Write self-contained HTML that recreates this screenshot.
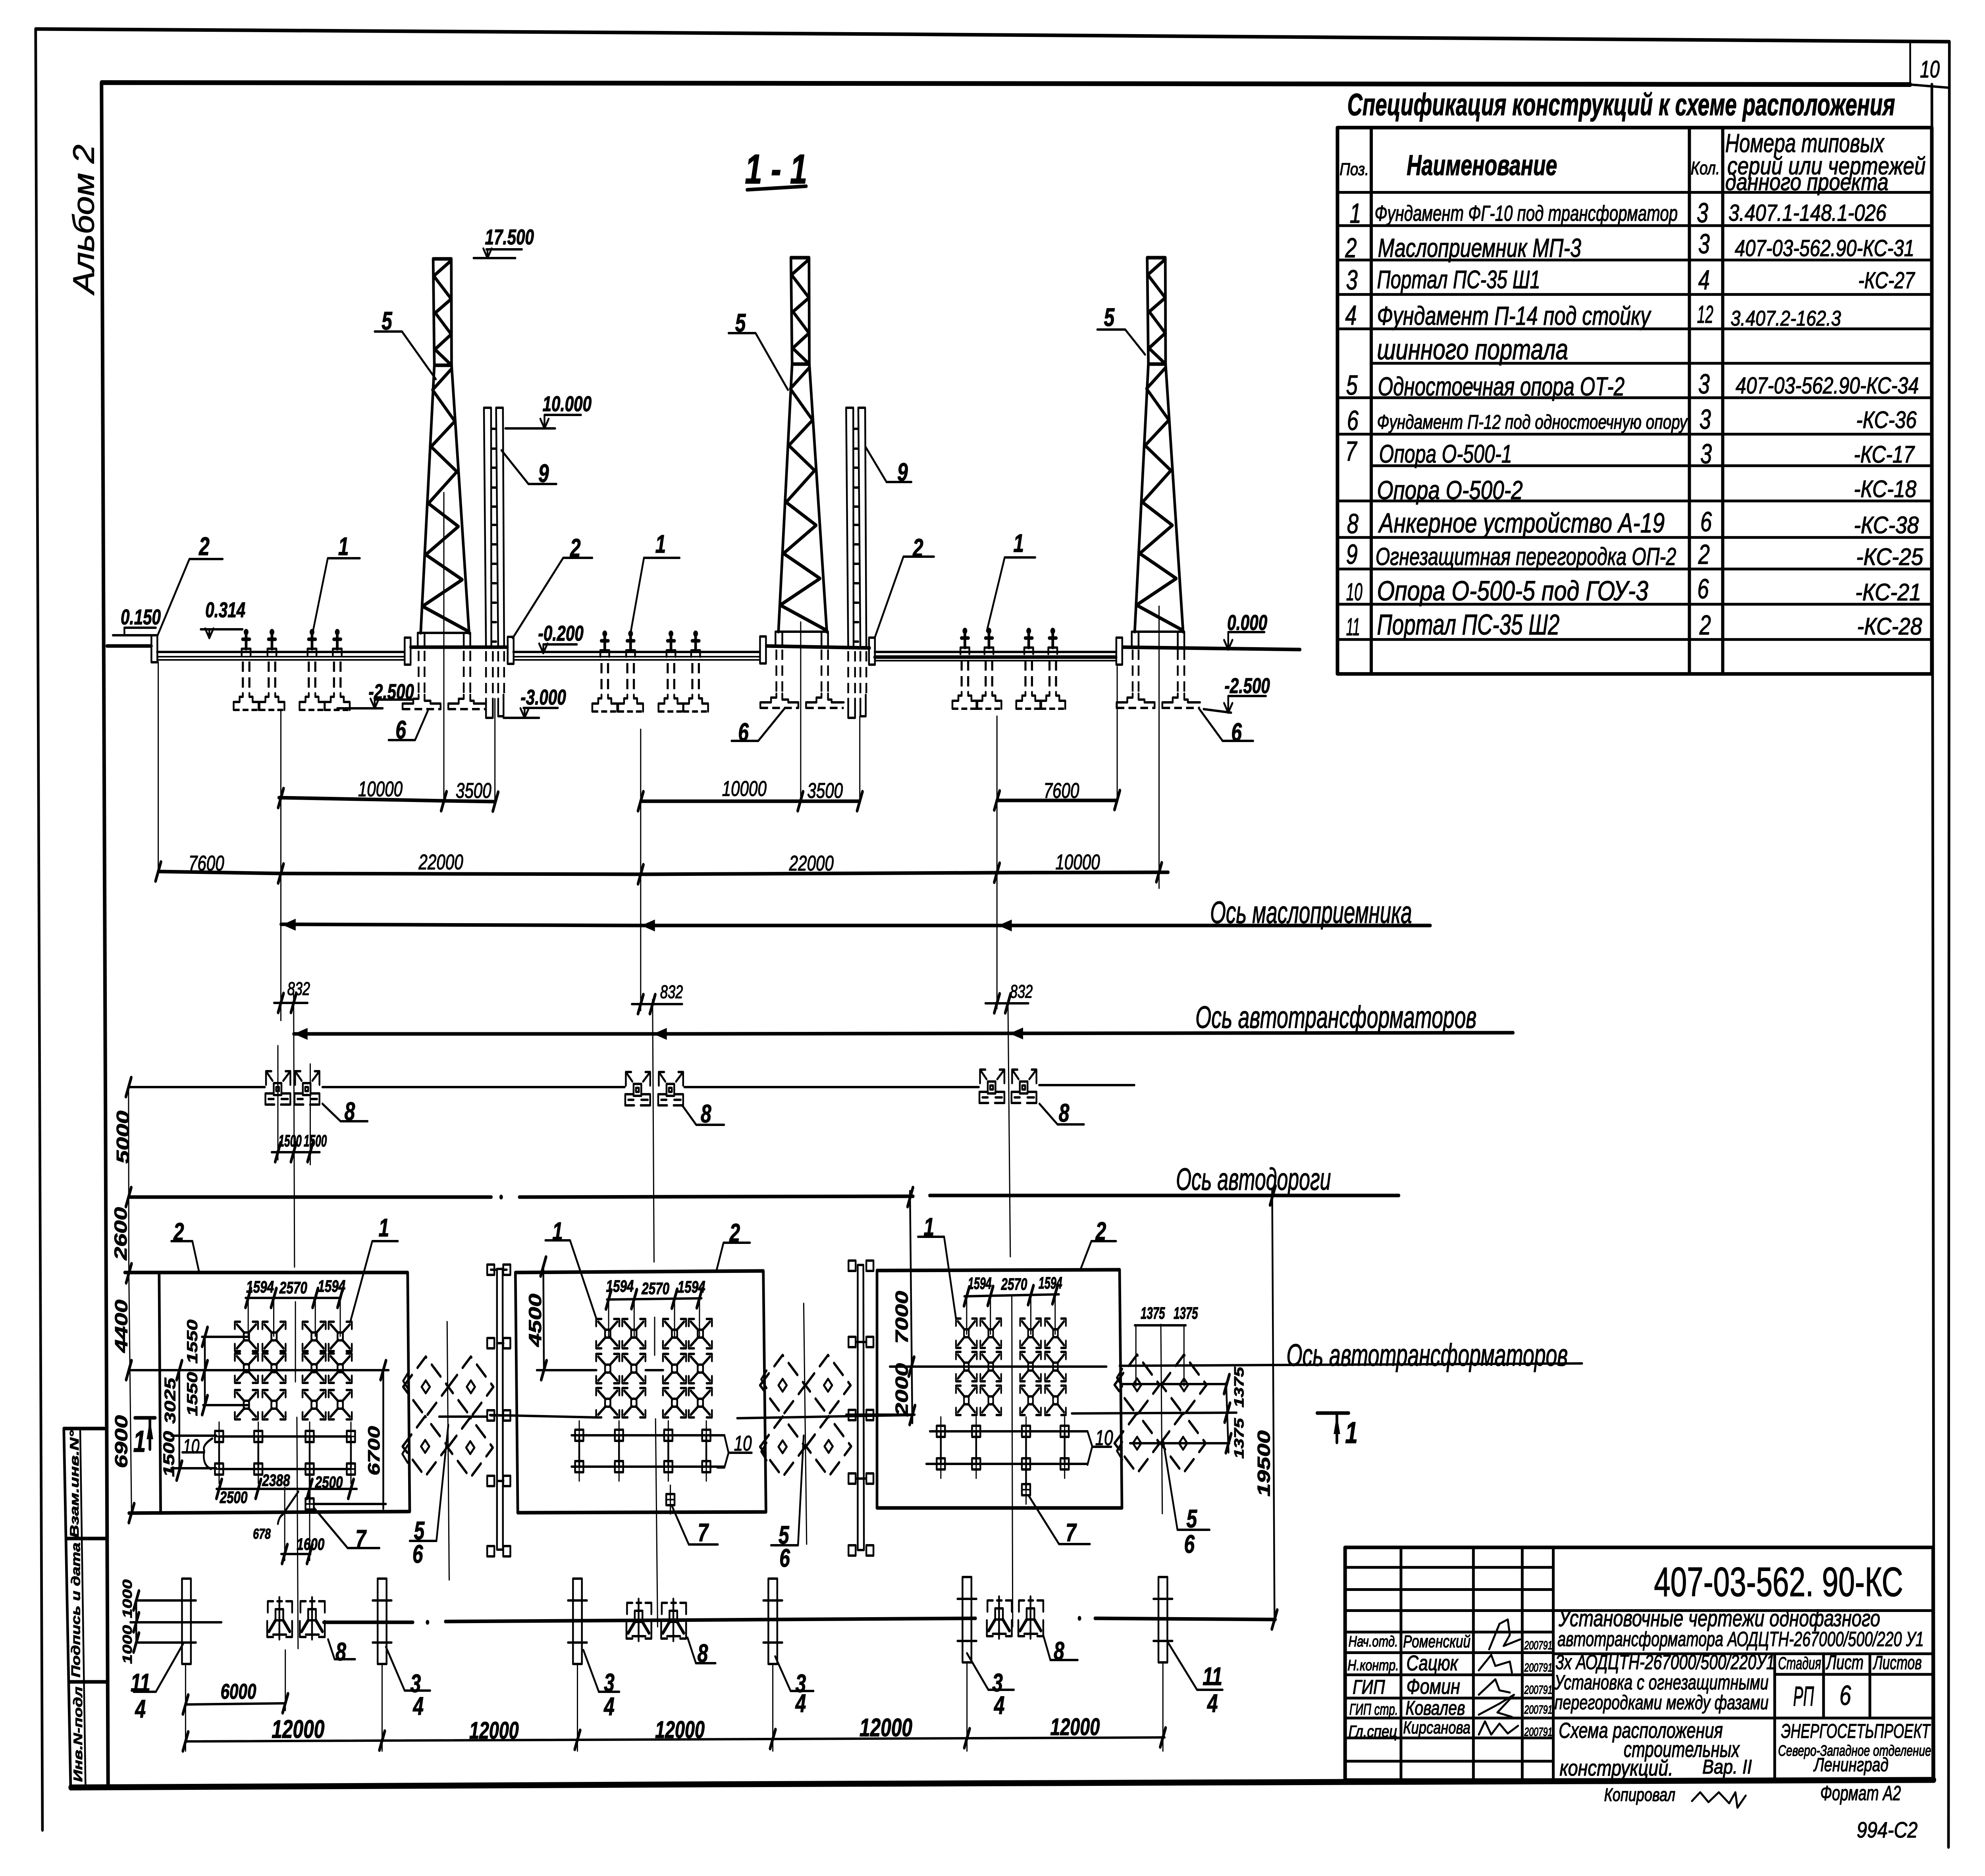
<!DOCTYPE html>
<html lang="ru">
<head>
<meta charset="utf-8">
<title>407-03-562.90-КС</title>
<style>
html,body{margin:0;padding:0;background:#fff;width:100%;height:100%;overflow:hidden}
svg{display:block;overflow:hidden;position:absolute;left:0;top:0;width:100vw;height:100vh}
svg *{stroke-linecap:round;stroke-linejoin:round}
.g{fill:none;stroke:#000;stroke-width:6}
.t{stroke-width:4}
.k{stroke-width:9}
.kk{stroke-width:12}
.da{stroke-dasharray:26 14;stroke-linecap:butt}
.ns *{vector-effect:non-scaling-stroke}
text{font-family:"Liberation Sans","DejaVu Sans",sans-serif;font-style:italic;fill:#000;stroke:#000;stroke-width:1.5}
.c text,text.c{dominant-baseline:central;text-anchor:middle}
.l text{font-size:64px;font-weight:bold}
.d text{font-size:54px}
.s text{font-size:42px;font-weight:bold}
</style>
</head>
<body>
<svg xmlns="http://www.w3.org/2000/svg" viewBox="0 0 6686 4725" preserveAspectRatio="none">
<rect width="6686" height="4725" fill="#fff"/>
<defs>
<path id="tk" class="g k" d="M-9 24L9 -24"/>
<path id="ah" d="M0 0L46 -15V15Z" fill="#000"/>
<path id="av" d="M-14 -24L0 0L14 -24" fill="none" stroke="#000" stroke-width="6"/>
<g id="tower">
<path class="g k" d="M1459 652H1520M1459 652L1463 920L1417 1594M1520 652L1521 920L1580 1594M1463 920H1521"/>
<path class="g k" d="M1520 656L1461 695L1520 753L1466 788L1520 842L1465 880L1521 920M1521 929L1457 982L1532 1061L1452 1125L1539 1188L1443 1268L1544 1326L1434 1397L1557 1460L1423 1527L1575 1589"/>
<path class="g" d="M1407 1594H1584M1407 1594V1630M1430 1594V1630M1562 1594V1630M1584 1594V1630"/>
<path class="g da" d="M1410 1639V1750M1430 1639V1750M1562 1639V1750M1584 1639V1750"/>
<path class="g" d="M1356 1772V1786M1356 1772H1392V1760H1410V1750M1430 1750V1765H1450V1772H1484V1786M1510 1772V1786M1510 1772H1545V1760H1562V1750M1584 1750V1765H1596V1772H1637"/>
<path class="g da" d="M1356 1786H1484M1510 1786H1637"/>
</g>
<g id="part">
<path class="g" d="M1630 1027H1654L1655 1630H1637ZM1671 1027H1694L1698 1630H1678Z"/>
<path class="g" d="M1655 1080H1671M1655 1130H1671M1655 1178H1671M1655 1228H1671M1655 1276H1671M1655 1322H1671M1655 1371H1671M1655 1420H1671M1655 1469H1671M1655 1518H1671M1655 1567H1671M1655 1616H1671"/>
<path class="g da" d="M1637 1640V1750M1660 1640V1750M1678 1640V1750M1698 1640V1750"/>
<path class="g" d="M1637 1760V1808H1660V1760M1678 1760V1804H1696V1750"/>
</g>
<g id="pier">
<circle cx="0" cy="2" r="8" fill="#000"/>
<path class="g k" d="M0 0V44M-12 20H12"/>
<path class="g" d="M-15 60V44H15V60"/>
<path class="g da" d="M-11 76V156M11 76V156" style="stroke-width:7"/>
<path class="g" d="M-42 198V178H-22V165H-11V156M11 156V165H22V178H42V198"/>
<path class="g da" d="M-42 198H42" style="stroke-dasharray:20 10"/>
</g>
<g id="box"><rect class="g" x="-10" y="-34" width="20" height="68"/></g>
<g id="X">
<path class="g" d="M0 18V0H18M60 0H78V18M78 56V74H60M18 74H0V56"/>
<path class="g" style="stroke-width:7" d="M7 7L32 28M71 7L46 28M7 67L32 46M71 67L46 46"/>
<rect class="g" x="30" y="27" width="18" height="20"/>
</g>
<g id="D">
<path class="g" style="stroke-dasharray:42 26;stroke-width:7" d="M-76 0L0 -76L76 0L0 76Z"/>
<path class="g" d="M-14 0L0 -16L14 0L0 16Z"/>
</g>
<g id="P">
<rect class="g" x="-14" y="-14" width="28" height="28"/>
<path class="g t" d="M-14 0H14M0 -36V36"/>
</g>
<g id="A1">
<path class="g" d="M4 36V2H22M4 2L26 26M70 2H86V36M86 2L62 26M30 32H56V62H30ZM38 42h10v10h-10zM2 58H30M56 58H86M2 58V86H32M54 86H86V58M12 72H30M56 72H78"/>
</g>
<g id="A2">
<path class="g" d="M4 30V2H22M36 2H52M66 2H86V30M30 22H56V50H30ZM2 52V92H22M66 92H86V52M22 86H66M43 -8V98"/>
<path class="g k" d="M30 50L8 78M56 50L78 78"/>
</g>
<g id="PT">
<path class="g" d="M-15 0H15V215H-15ZM-32 55H32M-32 161H32"/>
</g>
<path id="sq" class="g" d="M-12 -13H12V13H-12Z"/>
</defs>

<!-- frames -->
<path class="g k" d="M120 73L3000 86L6566 105L6563 4652M120 73L143 4609"/>
<path class="g kk" d="M342 208L6434 213M342 208L364 4496"/>
<path class="g" d="M6434 213L6565 221M6434 110V213"/>
<path class="g k" d="M6507 213L6514 4483"/>
<path style="fill:none;stroke:#000;stroke-width:15" d="M238 4502L2400 4494L4600 4488L6514 4483"/>
<path class="g k" d="M215 3598L238 4502M215 3598H352M225 3875H360M232 4236H364"/>
<path class="g" d="M270 3598L288 4496"/>
<text x="6500" y="175" class="c" font-size="60">10</text>
<text class="c" transform="translate(282,552) rotate(-90)" font-size="100" textLength="376" lengthAdjust="spacingAndGlyphs">Альбом 2</text>
<g class="c s">
<text transform="translate(250,3738) rotate(-90)" textLength="270" lengthAdjust="spacingAndGlyphs">Взам.инв.N°</text>
<text transform="translate(255,4055) rotate(-90)" textLength="340" lengthAdjust="spacingAndGlyphs">Подпись и дата</text>
<text transform="translate(262,4368) rotate(-90)" textLength="240" lengthAdjust="spacingAndGlyphs">Инв.N-подл</text>
</g>

<!-- section 1-1 -->
<text x="2614" y="426" class="c" font-size="105" font-weight="bold">1 - 1</text>
<path class="g k" d="M2516 478L2716 469"/>

<use href="#tower"/>
<use href="#tower" transform="translate(1205,-3)"/>
<use href="#tower" transform="translate(2405,-3)"/>
<use href="#part"/>
<use href="#part" transform="translate(1220,0)"/>

<!-- ground + trough -->
<path class="g k" d="M360 1627H510M1383 1630H1709M2581 1627L2929 1632M3782 1630L4379 1636"/>
<path class="g" d="M529 1642H1363M1729 1642H2558M2946 1642H3759"/>
<path class="g k" d="M2946 1655H3759"/>
<path class="g t" d="M529 1654H1363M529 1662H1363M1729 1654H2558M1729 1662H2558M2946 1664H3759"/>
<use href="#box" x="520" y="1634"/><use href="#box" x="1373" y="1640"/><use href="#box" x="1720" y="1638"/><use href="#box" x="2570" y="1637"/><use href="#box" x="2937" y="1640"/><use href="#box" x="3770" y="1640"/>
<use href="#pier" x="829" y="1590"/><use href="#pier" x="916" y="1590"/><use href="#pier" x="1051" y="1590"/><use href="#pier" x="1136" y="1590"/>
<use href="#pier" x="2037" y="1594"/><use href="#pier" x="2124" y="1594"/><use href="#pier" x="2260" y="1594"/><use href="#pier" x="2343" y="1594"/>
<use href="#pier" x="3250" y="1587"/><use href="#pier" x="3331" y="1587"/><use href="#pier" x="3465" y="1587"/><use href="#pier" x="3546" y="1587"/>
<path class="g" d="M1136 1784H1289"/>

<!-- leaders section -->
<path class="g" d="M1262 835H1354L1468 955M1689 1134L1780 1219H1874M1727 1607L1897 1405H1995M2124 1594L2169 1405H2289M1441 1790L1398 1864H1309
M2654 982L2545 839H2454M2915 1125L2986 1214H3070M2946 1607L3043 1402H3146M3324 1589L3384 1404H3487M2644 1783L2554 1866H2464
M3857 893L3790 830H3696M4040 1786L4118 1866H4221M531 1600L638 1408H750M1053 1594L1104 1406H1212"/>
<g class="c l">
<text x="1303" y="808">5</text><text x="1831" y="1192">9</text><text x="1938" y="1380">2</text><text x="2225" y="1370">1</text><text x="1350" y="1838">6</text>
<text x="2494" y="813">5</text><text x="3040" y="1189">9</text><text x="3092" y="1380">2</text><text x="3431" y="1368">1</text><text x="2504" y="1844">6</text>
<text x="3736" y="799">5</text><text x="4165" y="1844">6</text><text x="688" y="1376">2</text><text x="1157" y="1376">1</text>
</g>
<!-- levels -->
<g class="c d" style="font-weight:bold">
<text x="1716" y="598">17.500</text>
<text x="1910" y="1018">10.000</text>
<text x="1889" y="1596">-0.200</text>
<text x="1830" y="1757">-3.000</text>
<text x="1318" y="1743">-2.500</text>
<text x="4201" y="1569">0.000</text>
<text x="4201" y="1728">-2.500</text>
<text x="474" y="1555">0.150</text>
<text x="759" y="1537">0.314</text>
</g>
<path class="g" d="M1638 628H1758M1595 650H1736M1642 628V650M1834 1045H1957M1702 1079H1870M1834 1045V1079M1830 1623H1943M1830 1623V1645M1763 1783H1879M1696 1808H1816M1767 1783V1808M1262 1762H1392M1185 1784H1289M1262 1762V1784M4137 1592H4259M4137 1592V1636M4137 1753H4264M4137 1753V1795M4054 1786L4147 1795M419 1581H525M419 1581V1600M380 1600H510M676 1585H817M705 1585V1607"/>
<use href="#av" x="1642" y="650"/><use href="#av" x="1834" y="1079"/><use href="#av" x="1830" y="1645"/><use href="#av" x="1767" y="1808"/><use href="#av" x="1262" y="1784"/><use href="#av" x="4137" y="1636"/><use href="#av" x="4137" y="1795"/><use href="#av" x="705" y="1607"/>

<!-- verticals -->
<path class="g t" d="M533 1667V2195M946 1788V2570M1495 1241V2019M1667 1760V2019M2158 1837V2545M2697 1567V2018M2896 1804V2018M3358 1804V2540M3763 1679V2015M3904 1527V2237M989 2504L992 3191M2198 2518L2203 3178M3395 2520L3403 3165M936 2634V2921M1045 2680V2933"/>
<!-- dims top -->
<path class="g k" d="M939 2009L1495 2017L1669 2019M2158 2018H2896M3358 2016H3763"/>
<path class="g k" d="M533 2195L946 2200L2158 2202L3358 2198L3935 2197"/>
<g>
<use href="#tk" x="946" y="2010"/><use href="#tk" x="1495" y="2018"/><use href="#tk" x="1669" y="2019"/><use href="#tk" x="2158" y="2018"/><use href="#tk" x="2696" y="2018"/><use href="#tk" x="2896" y="2018"/><use href="#tk" x="3358" y="2016"/><use href="#tk" x="3763" y="2015"/>
<use href="#tk" x="533" y="2195"/><use href="#tk" x="946" y="2200"/><use href="#tk" x="2158" y="2202"/><use href="#tk" x="3358" y="2198"/><use href="#tk" x="3904" y="2197"/>
</g>
<g class="c d">
<text x="1281" y="1988">10000</text><text x="1595" y="1992">3500</text><text x="2507" y="1987">10000</text><text x="2779" y="1992">3500</text><text x="3575" y="1992">7600</text>
<text x="695" y="2175">7600</text><text x="1485" y="2172">22000</text><text x="2733" y="2175">22000</text><text x="3630" y="2172">10000</text>
</g>
<!-- axes -->
<path class="g k" d="M946 2328L2158 2331L4818 2331M989 2604L2198 2604L5097 2601"/>
<use href="#ah" x="950" y="2329"/><use href="#ah" x="2160" y="2331"/><use href="#ah" x="3362" y="2331"/>
<use href="#ah" x="990" y="2604"/><use href="#ah" x="2200" y="2604"/><use href="#ah" x="3400" y="2603"/>
<g class="c" font-size="78">
<text x="4416" y="2298" textLength="680" lengthAdjust="spacingAndGlyphs">Ось маслоприемника</text>
<text x="4500" y="2562" textLength="947" lengthAdjust="spacingAndGlyphs">Ось автотрансформаторов</text>
<text x="4222" y="2970" textLength="522" lengthAdjust="spacingAndGlyphs">Ось автодороги</text>
<text x="4807" y="3413" textLength="948" lengthAdjust="spacingAndGlyphs">Ось автотрансформаторов</text>
</g>
<path class="g" d="M923 2526H1036M2128 2529H2298M3319 2527H3464M915 2902H1077"/>
<use href="#tk" x="946" y="2526"/><use href="#tk" x="989" y="2526"/><use href="#tk" x="2158" y="2529"/><use href="#tk" x="2198" y="2529"/><use href="#tk" x="3358" y="2527"/><use href="#tk" x="3395" y="2527"/><use href="#tk" x="936" y="2902"/><use href="#tk" x="989" y="2902"/><use href="#tk" x="1045" y="2902"/>
<g class="c d"><text x="1006" y="2490" style="font-size:46px">832</text><text x="2262" y="2498" style="font-size:46px">832</text><text x="3440" y="2497" style="font-size:46px">832</text></g>
<g class="c s"><text x="977" y="2873" textLength="78" lengthAdjust="spacingAndGlyphs">1500</text><text x="1062" y="2873" textLength="78" lengthAdjust="spacingAndGlyphs">1500</text></g>
<!-- axis Y anchors -->
<path class="g" d="M433 2738H892M1086 2738H2104M2305 2738H3297M3500 2733H3821"/>
<use href="#A1" x="892" y="2696"/><use href="#A1" x="990" y="2696"/><use href="#A1" x="2104" y="2698"/><use href="#A1" x="2215" y="2698"/><use href="#A1" x="3297" y="2692"/><use href="#A1" x="3405" y="2692"/>
<path class="g" d="M1086 2780L1147 2824H1238M2298 2784L2345 2833H2439M3501 2780L3562 2832H3651"/>
<g class="c l"><text x="1178" y="2799">8</text><text x="2378" y="2805">8</text><text x="3584" y="2803">8</text></g>
<!-- road axis -->
<path class="g k" d="M433 3015H1655M1749 3015L3076 3013M3131 3011H4712"/>
<circle cx="1688" cy="3015" r="6" fill="#000"/>
<path class="g t" d="M433 2738L434 3207L443 3811"/>
<use href="#tk" x="433" y="2738"/><use href="#tk" x="433" y="3015"/><use href="#tk" x="434" y="3207"/><use href="#tk" x="434" y="3451"/><use href="#tk" x="443" y="3811"/>
<g class="c d" style="font-weight:bold">
<text transform="translate(414,2864) rotate(-90)" style="font-size:60px">5000</text>
<text transform="translate(407,3107) rotate(-90)" style="font-size:60px">2600</text>
<text transform="translate(409,3340) rotate(-90)" style="font-size:60px">4400</text>
<text transform="translate(409,3631) rotate(-90)" style="font-size:60px">6900</text>
<text transform="translate(3038,3318) rotate(-90)" style="font-size:60px">7000</text>
<text transform="translate(3038,3500) rotate(-90)" style="font-size:60px">2000</text>
<text transform="translate(4257,3686) rotate(-90)" style="font-size:60px">19500</text>
<text transform="translate(1803,3325) rotate(-90)" style="font-size:60px">4500</text>
<text transform="translate(1260,3654) rotate(-90)" style="font-size:56px">6700</text>
<text transform="translate(572,3528) rotate(-90)" style="font-size:52px">3025</text>
<text transform="translate(568,3662) rotate(-90)" style="font-size:52px">1500</text>
<text transform="translate(648,3379) rotate(-90)" style="font-size:50px">1550</text>
<text transform="translate(648,3511) rotate(-90)" style="font-size:50px">1550</text>
<text transform="translate(4173,3494) rotate(-90)" style="font-size:46px">1375</text>
<text transform="translate(4173,3623) rotate(-90)" style="font-size:46px">1375</text>
</g>
<!-- plan slabs -->
<path class="g k" d="M420 3205H1373L1380 3807L434 3811M536 3205L541 3811"/>
<path class="g k" d="M1736 3205L2571 3201L2580 3808L1744 3810Z"/>
<path class="g k" d="M2954 3200L3771 3198L3779 3798H2954Z"/>
<!-- plan 1 X -->
<use href="#X" x="791" y="3329"/><use href="#X" x="884" y="3329"/><use href="#X" x="1019" y="3329"/><use href="#X" x="1107" y="3329"/>
<use href="#X" x="791" y="3409"/><use href="#X" x="884" y="3409"/><use href="#X" x="1019" y="3409"/><use href="#X" x="1107" y="3409"/>
<use href="#X" x="791" y="3501"/><use href="#X" x="884" y="3501"/><use href="#X" x="1019" y="3501"/><use href="#X" x="1107" y="3501"/>
<!-- plan 2 X -->
<use href="#X" x="2008" y="3322"/><use href="#X" x="2096" y="3322"/><use href="#X" x="2233" y="3322"/><use href="#X" x="2320" y="3322"/>
<use href="#X" x="2008" y="3410"/><use href="#X" x="2096" y="3410"/><use href="#X" x="2233" y="3410"/><use href="#X" x="2320" y="3410"/>
<use href="#X" x="2008" y="3496"/><use href="#X" x="2096" y="3496"/><use href="#X" x="2233" y="3496"/><use href="#X" x="2320" y="3496"/>
<!-- plan 3 X -->
<use href="#X" transform="translate(3220,3321) scale(.9,1)"/><use href="#X" transform="translate(3302,3321) scale(.9,1)"/><use href="#X" transform="translate(3436,3321) scale(.9,1)"/><use href="#X" transform="translate(3520,3321) scale(.9,1)"/>
<use href="#X" transform="translate(3220,3405) scale(.9,1)"/><use href="#X" transform="translate(3302,3405) scale(.9,1)"/><use href="#X" transform="translate(3436,3405) scale(.9,1)"/><use href="#X" transform="translate(3520,3405) scale(.9,1)"/>
<use href="#X" transform="translate(3220,3490) scale(.9,1)"/><use href="#X" transform="translate(3302,3490) scale(.9,1)"/><use href="#X" transform="translate(3436,3490) scale(.9,1)"/><use href="#X" transform="translate(3520,3490) scale(.9,1)"/>
<!-- center axes -->
<path class="g t" d="M995 3279V3480M1000 3570L1004 4152M2205 3318V3413M2208 3574L2215 4097M3408 3266L3411 4097"/>
<!-- plan axis lines -->
<path class="g" d="M434 3451H1309M1808 3451H2009M2174 3451H2234M2997 3442H3727M3771 3440L5329 3434M1650 3564L2009 3570M2483 3572L3076 3564M2850 3563H3081M3610 3560L4165 3558M1059 3788H1300M1479 3568H1640"/>
<!-- posts -->
<path class="g" d="M738 3618H1182M738 3700H1182M738 3618V3700M870 3618V3700M1043 3618V3788M1182 3618V3700"/>
<use href="#P" x="738" y="3618"/><use href="#P" x="870" y="3618"/><use href="#P" x="1043" y="3618"/><use href="#P" x="1182" y="3618"/>
<use href="#P" x="738" y="3700"/><use href="#P" x="870" y="3700"/><use href="#P" x="1043" y="3700"/><use href="#P" x="1182" y="3700"/>
<use href="#P" x="1043" y="3788"/>
<path class="g" d="M1925 3615H2416M1925 3694H2440M1951 3615V3694M2085 3615V3694M2251 3615V3694M2379 3615V3694"/>
<use href="#P" x="1951" y="3615"/><use href="#P" x="2085" y="3615"/><use href="#P" x="2251" y="3615"/><use href="#P" x="2379" y="3615"/>
<use href="#P" x="1951" y="3694"/><use href="#P" x="2085" y="3694"/><use href="#P" x="2251" y="3694"/><use href="#P" x="2379" y="3694"/>
<use href="#P" x="2258" y="3777"/>
<path class="g" d="M3132 3605H3663M3120 3687H3663M3169 3605V3687M3288 3605V3687M3456 3605V3752M3586 3605V3687"/>
<use href="#P" x="3169" y="3605"/><use href="#P" x="3288" y="3605"/><use href="#P" x="3456" y="3605"/><use href="#P" x="3586" y="3605"/>
<use href="#P" x="3169" y="3687"/><use href="#P" x="3288" y="3687"/><use href="#P" x="3456" y="3687"/><use href="#P" x="3586" y="3687"/>
<use href="#P" x="3456" y="3752"/>
<!-- diamonds -->
<use href="#D" x="1434" y="3493"/><use href="#D" x="1586" y="3493"/><use href="#D" x="1432" y="3643"/><use href="#D" x="1584" y="3646"/>
<use href="#D" x="2636" y="3489"/><use href="#D" x="2789" y="3489"/><use href="#D" x="2636" y="3644"/><use href="#D" x="2791" y="3643"/>
<use href="#D" x="3830" y="3488"/><use href="#D" x="3988" y="3488"/><use href="#D" x="3830" y="3635"/><use href="#D" x="3985" y="3635"/>
<path class="g" d="M1376 3456L1358 3478L1376 3500M1373 3640L1355 3662L1373 3684M2582 3452L2564 3474L2582 3496M2582 3634L2564 3656L2582 3678M3780 3448L3762 3470L3780 3492M3780 3632L3762 3654L3780 3676"/>
<!-- plan partitions -->
<path class="g" d="M1674 3196H1693L1694 3903H1674ZM2889 3186H2908L2910 3904H2889Z"/>
<path class="g" d="M1653 3198H1674M1694 3198H1707M1653 3565H1707M2870 3565H2930M1674 3383H1696M2882 3380H2915M1674 3730H1696M2882 3724H2915"/>
<use href="#sq" x="1653" y="3198"/><use href="#sq" x="1707" y="3198"/><use href="#sq" x="1653" y="3383"/><use href="#sq" x="1707" y="3383"/><use href="#sq" x="1653" y="3565"/><use href="#sq" x="1707" y="3565"/><use href="#sq" x="1653" y="3730"/><use href="#sq" x="1707" y="3730"/><use href="#sq" x="1653" y="3907"/><use href="#sq" x="1707" y="3907"/>
<use href="#sq" x="2870" y="3188"/><use href="#sq" x="2930" y="3188"/><use href="#sq" x="2870" y="3380"/><use href="#sq" x="2930" y="3380"/><use href="#sq" x="2870" y="3564"/><use href="#sq" x="2930" y="3564"/><use href="#sq" x="2870" y="3724"/><use href="#sq" x="2930" y="3724"/><use href="#sq" x="2870" y="3905"/><use href="#sq" x="2930" y="3905"/>
<!-- plan leaders -->
<path class="g" d="M671 3205L648 3126H577M1180 3329L1254 3126H1340M1059 3799L1171 3899H1278
M2413 3201L2437 3130H2526M2009 3322L1920 3124H1837M2262 3791L2320 3890H2418
M3639 3198L3676 3126H3759M3220 3321L3180 3115H3092M3464 3766L3567 3889H3671
M1380 3881H1470L1510 3589M2597 3892H2688L2707 3616M3966 3853H4074M3966 3853L3918 3630
M715 3623Q680 3640 688 3654Q680 3690 711 3700M614 3658H688
M2416 3615H2440L2454 3659L2440 3696H2416M2454 3659H2532
M3663 3605L3679 3643L3663 3689M3679 3644H3743"/>
<path class="g t" d="M1506 3329L1513 3979M2707 3283L2717 3889M3910 3336L3915 3812"/>
<g class="c l">
<text x="602" y="3103">2</text><text x="1293" y="3092">1</text><text x="1215" y="3876">7</text>
<text x="2475" y="3105">2</text><text x="1878" y="3101">1</text><text x="2368" y="3860">7</text>
<text x="3708" y="3101">2</text><text x="3129" y="3090">1</text><text x="3607" y="3860">7</text>
<text x="1412" y="3855">5</text><text x="1407" y="3914">6</text><text x="2640" y="3866">5</text><text x="2643" y="3924">6</text><text x="4014" y="3825">5</text><text x="4006" y="3889">6</text>
</g>
<g class="c d">
<text x="644" y="3643" style="font-size:50px">10</text><text x="2502" y="3636">10</text><text x="3719" y="3622">10</text>
<text x="470" y="3631" style="font-size:76px;font-weight:bold">1</text>
<text x="4552" y="3609" style="font-size:76px;font-weight:bold">1</text>
</g>
<path class="g k" d="M454 3571H523M505 3574V3650M4436 3559H4543M4503 3559V3633"/>
<path d="M505 3574L494 3625H516ZM4503 3562L4492 3612H4514Z" fill="#000"/>
<!-- plan dims -->
<path class="g" d="M827 3269H1148M2044 3273L2363 3270M3248 3265L3567 3260M690 3367V3539M680 3367H836M684 3539H836M604 3451V3704M577 3616H729M577 3698H729M729 3750H1202M947 3914H1046M1291 3451V3800M1830 3186L1832 3448M3065 3000L3073 3584M4285 3000L4293 4085M3822 3338H3994M4130 3483L4138 3658M3775 3486H4130M3806 3635H4141"/>
<path class="g t" d="M836 3269V3365M922 3269V3365M1062 3269V3365M1146 3269V3365M2050 3273V3370M2136 3273V3370M2272 3273V3370M2356 3273V3370M3256 3265V3360M3336 3265V3360M3472 3265V3360M3554 3265V3360M959 3746V3930M1043 3788V3930M3826 3338V3490M3988 3338V3490"/>
<path class="g" d="M936 3838Q940 3820 952 3815L1005 3757"/>
<use href="#tk" x="836" y="3269"/><use href="#tk" x="922" y="3269"/><use href="#tk" x="1062" y="3269"/><use href="#tk" x="1146" y="3269"/>
<use href="#tk" x="2050" y="3273"/><use href="#tk" x="2136" y="3272"/><use href="#tk" x="2272" y="3271"/><use href="#tk" x="2356" y="3270"/>
<use href="#tk" x="3256" y="3265"/><use href="#tk" x="3336" y="3264"/><use href="#tk" x="3472" y="3262"/><use href="#tk" x="3554" y="3260"/>
<use href="#tk" x="690" y="3367"/><use href="#tk" x="690" y="3451"/><use href="#tk" x="690" y="3539"/><use href="#tk" x="604" y="3451"/><use href="#tk" x="604" y="3704"/><use href="#tk" x="1291" y="3451"/>
<use href="#tk" x="738" y="3750"/><use href="#tk" x="870" y="3750"/><use href="#tk" x="1182" y="3750"/><use href="#tk" x="1043" y="3750"/><use href="#tk" x="959" y="3914"/><use href="#tk" x="1043" y="3914"/>
<use href="#tk" x="1830" y="3190"/><use href="#tk" x="1832" y="3451"/><use href="#tk" x="3066" y="3015"/><use href="#tk" x="3070" y="3442"/><use href="#tk" x="3073" y="3564"/><use href="#tk" x="4287" y="3011"/><use href="#tk" x="4293" y="4079"/>
<use href="#tk" x="4132" y="3486"/><use href="#tk" x="4134" y="3558"/><use href="#tk" x="4138" y="3635"/>
<g class="c s">
<text x="876" y="3241">1594</text><text x="988" y="3243">2570</text><text x="1117" y="3239">1594</text>
<text x="2088" y="3239">1594</text><text x="2208" y="3245">2570</text><text x="2329" y="3241">1594</text>
<text x="3300" y="3232" textLength="80" lengthAdjust="spacingAndGlyphs">1594</text><text x="3416" y="3234" textLength="88" lengthAdjust="spacingAndGlyphs">2570</text><text x="3538" y="3231" textLength="80" lengthAdjust="spacingAndGlyphs">1594</text>
<text x="3883" y="3307" textLength="82" lengthAdjust="spacingAndGlyphs">1375</text><text x="3994" y="3307" textLength="82" lengthAdjust="spacingAndGlyphs">1375</text>
<text x="787" y="3771">2500</text><text x="930" y="3728">2388</text><text x="1108" y="3733">2500</text><text x="882" y="3863" style="font-size:36px">678</text><text x="1046" y="3889">1600</text>
</g>
<!-- bottom row -->
<use href="#PT" x="628" y="3976"/><use href="#PT" x="1287" y="3976"/><use href="#PT" x="1945" y="3976"/><use href="#PT" x="2603" y="3976"/><use href="#PT" x="3257" y="3972"/><use href="#PT" x="3917" y="3972"/>
<path class="g k" d="M1090 4086H1391M1500 4084L3286 4076M3688 4076L4296 4079"/>
<path class="g" d="M439 4086H746"/>
<circle cx="1440" cy="4086" r="6" fill="#000"/><circle cx="3636" cy="4076" r="6" fill="#000"/>
<path class="g" d="M459 4031V4137M459 4031H600M459 4137H600"/>
<use href="#tk" x="459" y="4031"/><use href="#tk" x="459" y="4086"/><use href="#tk" x="459" y="4137"/>
<use href="#A2" x="898" y="4031"/><use href="#A2" x="1008" y="4031"/><use href="#A2" x="2108" y="4035"/><use href="#A2" x="2225" y="4035"/><use href="#A2" x="3322" y="4029"/><use href="#A2" x="3428" y="4029"/>
<path class="g" d="M1105 4129L1127 4179H1196M2316 4125L2344 4189H2410M3515 4121L3538 4181H3630
M617 4140L525 4261H450M1300 4148L1363 4258H1449M1965 4156L2017 4261H2086M2611 4172L2663 4259H2740M3257 4164L3329 4256H3415M3931 4133L4032 4256H4118"/>
<g class="c l">
<text x="1148" y="4160">8</text><text x="2367" y="4164">8</text><text x="3567" y="4158">8</text>
<text x="473" y="4238">11</text><text x="473" y="4304">4</text><text x="1400" y="4240">3</text><text x="1409" y="4297">4</text><text x="2052" y="4238">3</text><text x="2052" y="4298">4</text><text x="2697" y="4240">3</text><text x="2697" y="4290">4</text><text x="3360" y="4238">3</text><text x="3366" y="4295">4</text><text x="4084" y="4222">11</text><text x="4084" y="4290">4</text>
</g>
<g class="c d" style="font-weight:bold">
<text transform="translate(430,4027) rotate(-90)" style="font-size:44px">1000</text>
<text transform="translate(430,4142) rotate(-90)" style="font-size:44px">1000</text>
<text x="803" y="4261" style="font-size:54px">6000</text>
<text x="1004" y="4355" style="font-size:64px">12000</text><text x="1664" y="4359" style="font-size:60px">12000</text><text x="2290" y="4357" style="font-size:60px">12000</text><text x="2984" y="4351" style="font-size:64px">12000</text><text x="3621" y="4350" style="font-size:60px">12000</text>
</g>
<path class="g" d="M625 4293L961 4290M625 4386L3923 4376"/>
<path class="g t" d="M961 4156V4308M625 4191V4410M1287 4191V4410M1945 4191V4410M2603 4191V4410M3257 4191V4410M3917 4191V4410"/>
<use href="#tk" x="625" y="4293"/><use href="#tk" x="961" y="4290"/>
<use href="#tk" x="625" y="4386"/><use href="#tk" x="1287" y="4384"/><use href="#tk" x="1945" y="4382"/><use href="#tk" x="2603" y="4380"/><use href="#tk" x="3257" y="4378"/><use href="#tk" x="3917" y="4376"/>

<!-- spec table -->
<text x="4538" y="290" font-size="78" font-weight="bold" textLength="1845" lengthAdjust="spacingAndGlyphs">Спецификация конструкций к схеме расположения</text>
<g class="ns" transform="translate(4400,150) scale(1.458,1.02)">
<path class="g" style="stroke-width:9" d="M72 168H1445V1517H72Z"/>
<path class="g" style="stroke-width:8" d="M150 168V1517M885 168V1517M962 168V1517"/>
<path class="g" style="stroke-width:7" d="M72 328H1445M72 410H1445M72 495H1445M72 580H1445M72 665H1445M150 750H1445M72 835H1445M72 925H1445M150 1003H1445M72 1090H1445M72 1180H1445M72 1258H1445M72 1345H1445M72 1432H1445"/>
</g>
<g font-size="70">
<text x="4512" y="441" font-size="44" textLength="99" lengthAdjust="spacingAndGlyphs">Поз.</text>
<text x="4738" y="441" font-size="72" font-weight="bold" textLength="507" lengthAdjust="spacingAndGlyphs">Наименование</text>
<text x="5695" y="439" font-size="46" textLength="98" lengthAdjust="spacingAndGlyphs">Кол.</text>
<text x="5811" y="383" font-size="66" textLength="535" lengthAdjust="spacingAndGlyphs">Номера типовых</text>
<text x="5818" y="439" font-size="62" textLength="668" lengthAdjust="spacingAndGlyphs">серий или чертежей</text>
<text x="5811" y="479" font-size="60" textLength="550" lengthAdjust="spacingAndGlyphs">данного проекта</text>

<text x="4546" y="561">1</text><text x="4630" y="556" font-size="55" textLength="1021" lengthAdjust="spacingAndGlyphs">Фундамент ФГ-10 под трансформатор</text><text x="5715" y="560">3</text><text x="5822" y="556" font-size="58" textLength="532" lengthAdjust="spacingAndGlyphs">3.407.1-148.1-026</text>
<text x="4531" y="648">2</text><text x="4641" y="647" font-size="66" textLength="685" lengthAdjust="spacingAndGlyphs">Маслоприемник МП-3</text><text x="5720" y="638">3</text><text x="5843" y="645" font-size="58" textLength="605" lengthAdjust="spacingAndGlyphs">407-03-562.90-КС-31</text>
<text x="4534" y="729">3</text><text x="4638" y="726" font-size="64" textLength="550" lengthAdjust="spacingAndGlyphs">Портал ПС-35 Ш1</text><text x="5720" y="729">4</text><text x="6259" y="726" font-size="58" textLength="190" lengthAdjust="spacingAndGlyphs">-КС-27</text>
<text x="4531" y="818">4</text><text x="4638" y="818" font-size="66" textLength="921" lengthAdjust="spacingAndGlyphs">Фундамент П-14 под стойку</text><text x="5716" y="813" font-size="62" textLength="55" lengthAdjust="spacingAndGlyphs">12</text><text x="5829" y="820" font-size="54" textLength="372" lengthAdjust="spacingAndGlyphs">3.407.2-162.3</text>
<text x="4638" y="905" font-size="72" textLength="644" lengthAdjust="spacingAndGlyphs">шинного портала</text>
<text x="4534" y="994">5</text><text x="4641" y="996" font-size="66" textLength="831" lengthAdjust="spacingAndGlyphs">Одностоечная опора ОТ-2</text><text x="5720" y="991">3</text><text x="5846" y="991" font-size="58" textLength="617" lengthAdjust="spacingAndGlyphs">407-03-562.90-КС-34</text>
<text x="4537" y="1083">6</text><text x="4638" y="1080" font-size="50" textLength="1045" lengthAdjust="spacingAndGlyphs">Фундамент П-12 под одностоечную опору</text><text x="5724" y="1080">3</text><text x="6252" y="1078" font-size="60" textLength="204" lengthAdjust="spacingAndGlyphs">-КС-36</text>
<text x="4531" y="1160">7</text><text x="4645" y="1165" font-size="64" textLength="448" lengthAdjust="spacingAndGlyphs">Опора О-500-1</text><text x="5727" y="1167">3</text><text x="6244" y="1165" font-size="60" textLength="204" lengthAdjust="spacingAndGlyphs">-КС-17</text>
<text x="4638" y="1257" font-size="66" textLength="491" lengthAdjust="spacingAndGlyphs">Опора О-500-2</text><text x="6244" y="1252" font-size="60" textLength="211" lengthAdjust="spacingAndGlyphs">-КС-18</text>
<text x="4537" y="1343">8</text><text x="4645" y="1341" font-size="70" textLength="962" lengthAdjust="spacingAndGlyphs">Анкерное устройство А-19</text><text x="5727" y="1338">6</text><text x="6244" y="1343" font-size="60" textLength="219" lengthAdjust="spacingAndGlyphs">-КС-38</text>
<text x="4534" y="1420">9</text><text x="4633" y="1423" font-size="62" textLength="1013" lengthAdjust="spacingAndGlyphs">Огнезащитная перегородка ОП-2</text><text x="5720" y="1420">2</text><text x="6252" y="1423" font-size="60" textLength="226" lengthAdjust="spacingAndGlyphs">-КС-25</text>
<text x="4534" y="1512" font-size="62" textLength="55" lengthAdjust="spacingAndGlyphs">10</text><text x="4638" y="1512" font-size="70" textLength="914" lengthAdjust="spacingAndGlyphs">Опора О-500-5 под ГОУ-3</text><text x="5717" y="1507">6</text><text x="6249" y="1512" font-size="60" textLength="222" lengthAdjust="spacingAndGlyphs">-КС-21</text>
<text x="4534" y="1600" font-size="62" textLength="47" lengthAdjust="spacingAndGlyphs">11</text><text x="4638" y="1598" font-size="72" textLength="615" lengthAdjust="spacingAndGlyphs">Портал ПС-35 Ш2</text><text x="5724" y="1598">2</text><text x="6255" y="1598" font-size="60" textLength="219" lengthAdjust="spacingAndGlyphs">-КС-28</text>
</g>

<!-- title block -->
<g class="ns" transform="translate(4500,3850) scale(1.394,.558)">
<path class="g" style="stroke-width:9" d="M22 85H1443V1135H22Z"/>
<path class="g" style="stroke-width:7" d="M157 85V1135M332 85V1135M450 85V1135M525 85V1135M22 175H525M22 275H525M22 370H1443M22 467H525M22 560H525M525 565H1443M22 660H525M22 765H525M22 855H1443M22 945H525M22 1050H525M1060 565V1135M1178 565V855M1290 565V855M1060 658H1443"/>
<path class="g" style="stroke-width:5" d="M370 545L395 430L415 410L420 480L405 530L445 500
M345 640L375 570L385 620L420 600L425 650
M345 750L385 680L395 730L420 740M345 840L395 790L430 750L390 830L425 850
M345 930L360 870L375 930L395 880L415 925L440 890
M860 1230L880 1190L900 1235L925 1190L950 1240L965 1190L970 1260L990 1205"/>
</g>
<g font-size="50">
<text x="5571" y="4020" font-size="104" textLength="839" lengthAdjust="spacingAndGlyphs" style="font-style:normal">407-03-562. 90-КС</text>
<text x="5250" y="4096" font-size="58" textLength="1083" lengthAdjust="spacingAndGlyphs">Установочные чертежи однофазного</text>
<text x="5246" y="4146" font-size="52" textLength="1234" lengthAdjust="spacingAndGlyphs">автотрансформатора АОДЦТН-267000/500/220 У1</text>
<text x="5239" y="4204" font-size="52" textLength="739" lengthAdjust="spacingAndGlyphs">3х АОДЦТН-267000/500/220У1</text>
<text x="5236" y="4255" font-size="52" textLength="721" lengthAdjust="spacingAndGlyphs">Установка с огнезащитными</text>
<text x="5236" y="4305" font-size="50" textLength="721" lengthAdjust="spacingAndGlyphs">перегородками между фазами</text>
<text x="5989" y="4204" font-size="44" textLength="145" lengthAdjust="spacingAndGlyphs">Стадия</text>
<text x="6152" y="4204" font-size="50" textLength="125" lengthAdjust="spacingAndGlyphs">Лист</text>
<text x="6310" y="4204" font-size="48" textLength="163" lengthAdjust="spacingAndGlyphs">Листов</text>
<text x="6040" y="4296" font-size="70" textLength="70" lengthAdjust="spacingAndGlyphs">РП</text>
<text x="6196" y="4294" font-size="70" textLength="39" lengthAdjust="spacingAndGlyphs">6</text>
<text x="5999" y="4377" font-size="50" textLength="502" lengthAdjust="spacingAndGlyphs">ЭНЕРГОСЕТЬПРОЕКТ</text>
<text x="5989" y="4422" font-size="38" textLength="516" lengthAdjust="spacingAndGlyphs">Северо-Западное отделение</text>
<text x="6110" y="4461" font-size="48" textLength="251" lengthAdjust="spacingAndGlyphs">Ленинград</text>
<text x="5250" y="4377" font-size="55" textLength="553" lengthAdjust="spacingAndGlyphs">Схема расположения</text>
<text x="5469" y="4425" font-size="56" textLength="390" lengthAdjust="spacingAndGlyphs">строительных</text>
<text x="5253" y="4472" font-size="56" textLength="383" lengthAdjust="spacingAndGlyphs">конструкций.</text>
<text x="5734" y="4467" font-size="50" textLength="167" lengthAdjust="spacingAndGlyphs">Вар. II</text>
<text x="5403" y="4536" font-size="46" textLength="240" lengthAdjust="spacingAndGlyphs">Копировал</text>
<text x="6131" y="4534" font-size="52" textLength="272" lengthAdjust="spacingAndGlyphs">Формат А2</text>
<text x="6254" y="4628" font-size="56" textLength="205" lengthAdjust="spacingAndGlyphs">994-С2</text>
<text x="4542" y="4147" font-size="38" textLength="167" lengthAdjust="spacingAndGlyphs">Нач.отд.</text><text x="4726" y="4149" font-size="44" textLength="227" lengthAdjust="spacingAndGlyphs">Роменский</text>
<text x="4539" y="4207" font-size="38" textLength="173" lengthAdjust="spacingAndGlyphs">Н.контр.</text><text x="4737" y="4207" font-size="54" textLength="174" lengthAdjust="spacingAndGlyphs">Сацюк</text>
<text x="4556" y="4266" font-size="50" textLength="109" lengthAdjust="spacingAndGlyphs">ГИП</text><text x="4737" y="4266" font-size="54" textLength="181" lengthAdjust="spacingAndGlyphs">Фомин</text>
<text x="4545" y="4319" font-size="40" textLength="164" lengthAdjust="spacingAndGlyphs">ГИП стр.</text><text x="4734" y="4319" font-size="50" textLength="201" lengthAdjust="spacingAndGlyphs">Ковалев</text>
<text x="4542" y="4375" font-size="42" textLength="164" lengthAdjust="spacingAndGlyphs">Гл.спец</text><text x="4726" y="4366" font-size="44" textLength="227" lengthAdjust="spacingAndGlyphs">Кирсанова</text>
<text x="5134" y="4154" font-size="30" textLength="95" lengthAdjust="spacingAndGlyphs">200791</text><text x="5134" y="4210" font-size="30" textLength="95" lengthAdjust="spacingAndGlyphs">200791</text><text x="5134" y="4266" font-size="30" textLength="95" lengthAdjust="spacingAndGlyphs">200791</text><text x="5134" y="4316" font-size="30" textLength="95" lengthAdjust="spacingAndGlyphs">200791</text><text x="5134" y="4372" font-size="30" textLength="95" lengthAdjust="spacingAndGlyphs">200791</text>
</g>
</svg>
</body>
</html>
